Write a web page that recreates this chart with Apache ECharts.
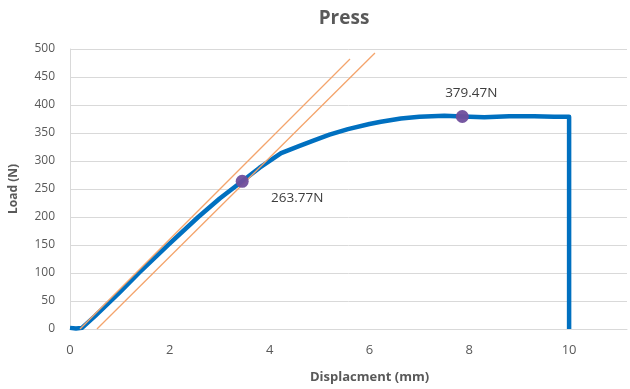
<!DOCTYPE html>
<html>
<head>
<meta charset="utf-8">
<script src="https://cdn.jsdelivr.net/npm/echarts@6/dist/echarts.min.js"></script>
<style>
  html, body { margin: 0; padding: 0; background: #fff; }
  #chart { width: 630px; height: 389px; }
</style>
</head>
<body>
<div id="chart"></div>
<script>
// load curve
const dispX = [0, 0.12, 0.24, 0.5, 1, 1.38, 2, 2.57, 3, 3.45, 3.8, 4.23, 4.6, 4.89, 5.2, 5.57, 6, 6.23, 6.63, 7, 7.5, 7.86, 8.3, 8.8, 9.3, 9.7, 10, 10];
const loadY = [2, 1, 2, 23, 66, 100, 153, 200, 233, 263.77, 288, 314, 327, 337, 347, 357, 366, 370, 376, 379, 381, 379.47, 378, 380, 380, 379, 379, 0];

// tangent / offset lines
const tangentX = [0.2, 5.61];
const tangentY = [0, 482];
const offsetX = [0.54, 6.11];
const offsetY = [0, 493];

// marked points
const markX = [3.45, 7.86];
const markY = [263.77, 379.47];
const markOffset = [[55, 17], [9, -23]];

// plot is cut off on the right, just past 11
const xMin = 0;
const xMax = 11.16;
const yMax = 500;

const zip = (xs, ys) => xs.map((x, i) => [x, ys[i]]);

const chart = echarts.init(document.getElementById('chart'));

const axisFont = 'Open Sans, Noto Sans, sans-serif';

const option = {
  animation: false,
  backgroundColor: '#fff',
  title: {
    text: 'Press',
    left: 339,
    top: 4,
    textAlign: 'center',
    textStyle: {
      fontFamily: axisFont,
      fontSize: 19,
      fontWeight: 'bold',
      color: '#595959',
    },
  },
  grid: {
    left: 68,
    right: 3,
    top: 49,
    bottom: 60,
  },
  xAxis: {
    type: 'value',
    min: xMin,
    max: xMax,
    interval: 2,
    name: 'Displacment (mm)',
    nameLocation: 'middle',
    nameGap: 42,
    nameTextStyle: {
      fontFamily: axisFont,
      fontSize: 13,
      fontWeight: 'bold',
      color: '#595959',
      // the original plot area runs on past the crop, so its title sits right of centre
      padding: [0, 0, 0, 42],
    },
    axisLine: { lineStyle: { color: '#d9d9d9', width: 1 } },
    axisTick: { show: false },
    axisLabel: {
      fontFamily: axisFont,
      fontSize: 13,
      color: '#595959',
      margin: 15,
      showMaxLabel: false,
    },
    splitLine: { show: false },
  },
  yAxis: {
    type: 'value',
    min: 0,
    max: yMax,
    interval: 50,
    name: 'Load (N)',
    nameLocation: 'middle',
    nameGap: 50,
    nameTextStyle: {
      fontFamily: axisFont,
      fontSize: 12,
      fontWeight: 'bold',
      color: '#595959',
    },
    axisLine: { show: true, lineStyle: { color: '#d9d9d9', width: 1 } },
    axisTick: { show: false },
    axisLabel: {
      fontFamily: axisFont,
      fontSize: 12,
      color: '#595959',
      margin: 15,
    },
    splitLine: { lineStyle: { color: '#d9d9d9', width: 1 } },
  },
  series: [
    {
      name: 'Tangent',
      type: 'line',
      data: zip(tangentX, tangentY),
      symbol: 'none',
      lineStyle: { color: '#F4A46C', width: 1.3 },
      z: 3,
    },
    {
      name: 'Load',
      type: 'line',
      data: zip(dispX, loadY),
      symbol: 'none',
      lineStyle: { color: '#0070C0', width: 4.5, join: 'round' },
      z: 2,
    },
    {
      name: 'Offset',
      type: 'line',
      data: zip(offsetX, offsetY),
      symbol: 'none',
      lineStyle: { color: '#F4A46C', width: 1.3 },
      z: 3,
    },
    {
      name: 'Marks',
      type: 'scatter',
      data: markX.map((x, i) => ({
        value: [x, markY[i]],
        label: { offset: markOffset[i] },
      })),
      symbol: 'circle',
      symbolSize: 13,
      itemStyle: { color: '#6F4E9C', opacity: 0.95 },
      label: {
        show: true,
        position: 'inside',
        fontFamily: axisFont,
        fontSize: 13.5,
        color: '#333333',
        formatter: (p) => p.value[1].toFixed(2) + 'N',
      },
      z: 5,
    },
  ],
};

chart.setOption(option);
</script>
</body>
</html>
